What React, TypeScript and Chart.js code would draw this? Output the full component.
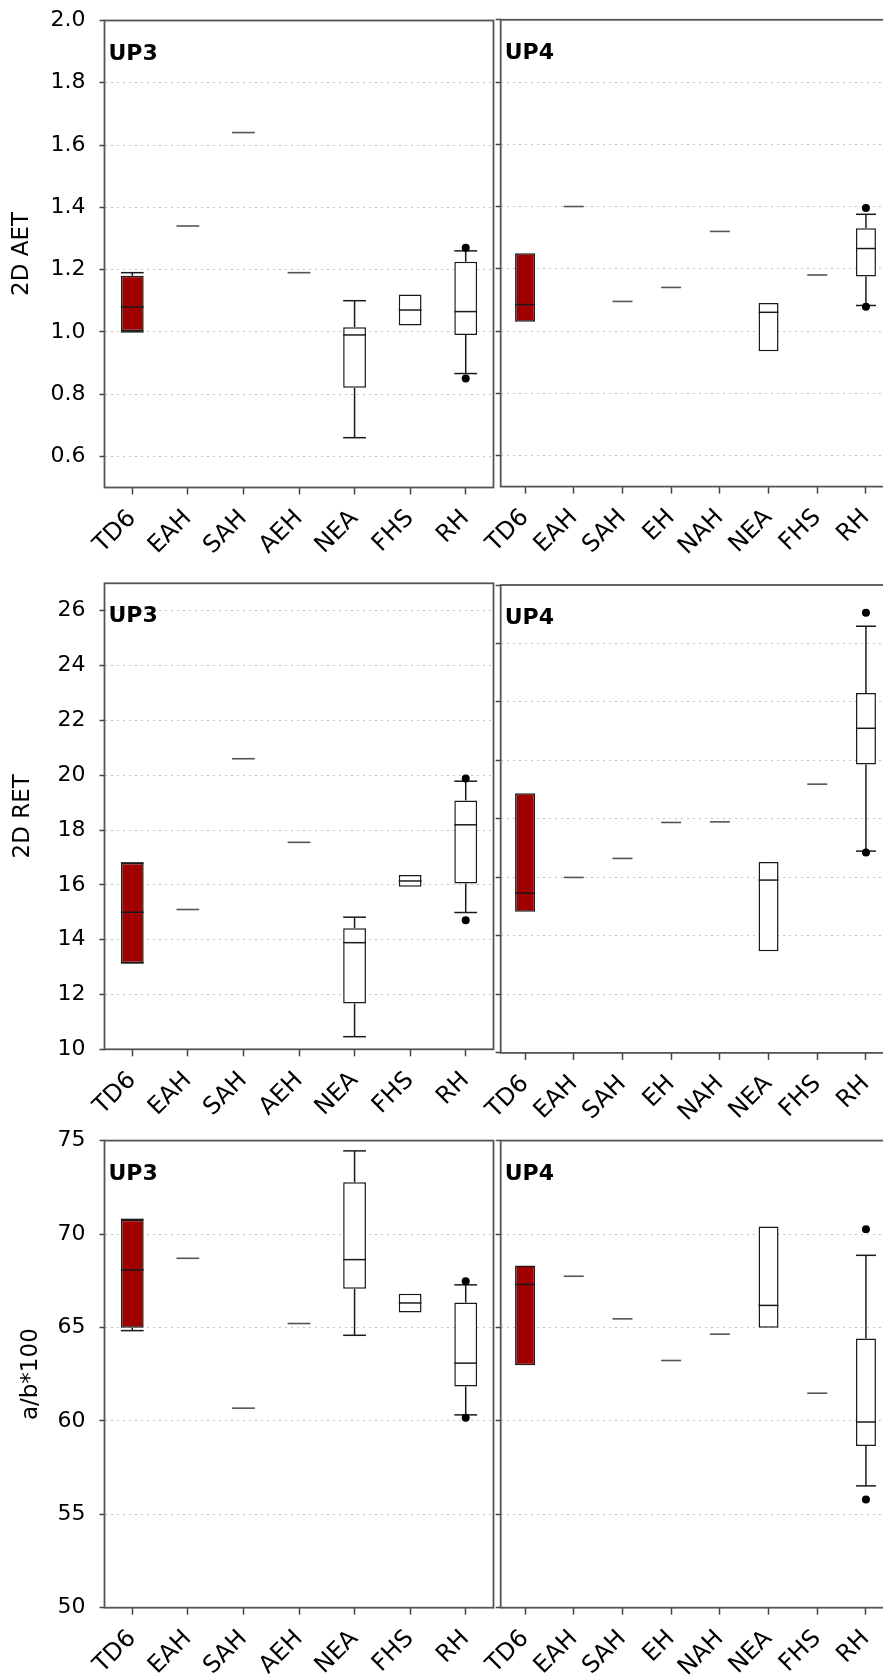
import React, { useEffect, useRef } from "react";
import { Chart, registerables } from "chart.js";

Chart.register(...registerables);

const FONT_FAMILY = "'DejaVu Sans', 'Liberation Sans', Arial, sans-serif";
const TD6_FILL = "#a00000";
const BOX_FRACTION = 0.41;

type V = number | null;
const _ = null;

// ---- categories ----
const CATS_UP3 = ["TD6", "EAH", "SAH", "AEH", "NEA", "FHS", "RH"];
const CATS_UP4 = ["TD6", "EAH", "SAH", "EH", "NAH", "NEA", "FHS", "RH"];

// ---- y tick values ----
const TICKS_AET = [0.6, 0.8, 1.0, 1.2, 1.4, 1.6, 1.8, 2.0];
const TICKS_RET_UP3 = [10, 12, 14, 16, 18, 20, 22, 24, 26];
const TICKS_RET_UP4 = [10, 12, 14, 16, 18, 20, 22, 24, 26];
const TICKS_AB = [50, 55, 60, 65, 70, 75];

// ---- 2D AET, UP3 ----
const AET_UP3_MIN: V[] = [1.0, _, _, _, 0.66, _, 0.866];
const AET_UP3_Q1: V[] = [1.003, _, _, _, 0.82, 1.02, 0.99];
const AET_UP3_MED: V[] = [1.08, 1.34, 1.64, 1.19, 0.99, 1.07, 1.065];
const AET_UP3_Q3: V[] = [1.18, _, _, _, 1.015, 1.12, 1.225];
const AET_UP3_MAX: V[] = [1.19, _, _, _, 1.1, _, 1.26];
const AET_UP3_OUT_HI: V[] = [_, _, _, _, _, _, 1.27];
const AET_UP3_OUT_LO: V[] = [_, _, _, _, _, _, 0.85];

// ---- 2D AET, UP4 ----
const AET_UP4_MIN: V[] = [_, _, _, _, _, _, _, 1.082];
const AET_UP4_Q1: V[] = [1.03, _, _, _, _, 0.935, _, 1.175];
const AET_UP4_MED: V[] = [1.085, 1.4, 1.095, 1.14, 1.32, 1.06, 1.18, 1.265];
const AET_UP4_Q3: V[] = [1.25, _, _, _, _, 1.09, _, 1.33];
const AET_UP4_MAX: V[] = [_, _, _, _, _, _, _, 1.375];
const AET_UP4_OUT_HI: V[] = [_, _, _, _, _, _, _, 1.395];
const AET_UP4_OUT_LO: V[] = [_, _, _, _, _, _, _, 1.078];

// ---- 2D RET, UP3 ----
const RET_UP3_MIN: V[] = [13.15, _, _, _, 10.46, _, 14.99];
const RET_UP3_Q1: V[] = [13.15, _, _, _, 11.67, 15.93, 16.05];
const RET_UP3_MED: V[] = [15.0, 15.1, 20.6, 17.55, 13.89, 16.14, 18.19];
const RET_UP3_Q3: V[] = [16.8, _, _, _, 14.42, 16.36, 19.08];
const RET_UP3_MAX: V[] = [16.8, _, _, _, 14.82, _, 19.78];
const RET_UP3_OUT_HI: V[] = [_, _, _, _, _, _, 19.88];
const RET_UP3_OUT_LO: V[] = [_, _, _, _, _, _, 14.71];

// ---- 2D RET, UP4 ----
const RET_UP4_MIN: V[] = [_, _, _, _, _, _, _, 16.9];
const RET_UP4_Q1: V[] = [14.83, _, _, _, _, 13.48, _, 19.86];
const RET_UP4_MED: V[] = [15.46, 16.0, 16.65, 17.88, 17.9, 15.91, 19.19, 21.1];
const RET_UP4_Q3: V[] = [18.88, _, _, _, _, 16.53, _, 22.31];
const RET_UP4_MAX: V[] = [_, _, _, _, _, _, _, 24.59];
const RET_UP4_OUT_HI: V[] = [_, _, _, _, _, _, _, 25.05];
const RET_UP4_OUT_LO: V[] = [_, _, _, _, _, _, _, 16.85];

// ---- a/b*100, UP3 ----
const AB_UP3_MIN: V[] = [64.83, _, _, _, 64.58, _, 60.32];
const AB_UP3_Q1: V[] = [64.98, _, _, _, 67.07, 65.8, 61.84];
const AB_UP3_MED: V[] = [68.08, 68.7, 60.68, 65.21, 68.63, 66.31, 63.09];
const AB_UP3_Q3: V[] = [70.76, _, _, _, 72.77, 66.8, 66.33];
const AB_UP3_MAX: V[] = [70.78, _, _, _, 74.45, _, 67.28];
const AB_UP3_OUT_HI: V[] = [_, _, _, _, _, _, 67.47];
const AB_UP3_OUT_LO: V[] = [_, _, _, _, _, _, 60.17];

// ---- a/b*100, UP4 ----
const AB_UP4_MIN: V[] = [_, _, _, _, _, _, _, 56.52];
const AB_UP4_Q1: V[] = [62.98, _, _, _, _, 64.98, _, 58.65];
const AB_UP4_MED: V[] = [67.3, 67.74, 65.46, 63.23, 64.64, 66.18, 61.48, 59.94];
const AB_UP4_Q3: V[] = [68.31, _, _, _, _, 70.4, _, 64.41];
const AB_UP4_MAX: V[] = [_, _, _, _, _, _, _, 68.86];
const AB_UP4_OUT_HI: V[] = [_, _, _, _, _, _, _, 70.26];
const AB_UP4_OUT_LO: V[] = [_, _, _, _, _, _, _, 55.79];

type Stats = {
  cats: string[];
  min: V[];
  q1: V[];
  med: V[];
  q3: V[];
  max: V[];
  outHi: V[];
  outLo: V[];
};

type Layout = {
  left: number;
  top: number;
  width: number;
  height: number;
  axisW: number;
  padTop: number;
  padRight: number;
  xAxisH: number;
  titlePad: number;
};

type PanelSpec = {
  label: string;
  title: string | null;
  stats: Stats;
  yMin: number;
  yMax: number;
  ticks: number[];
  decimals: number;
  layout: Layout;
};

const PANELS: PanelSpec[] = [
  {
    label: "UP3",
    title: "2D AET",
    stats: { cats: CATS_UP3, min: AET_UP3_MIN, q1: AET_UP3_Q1, med: AET_UP3_MED, q3: AET_UP3_Q3, max: AET_UP3_MAX, outHi: AET_UP3_OUT_HI, outLo: AET_UP3_OUT_LO },
    yMin: 0.5, yMax: 2.0, ticks: TICKS_AET, decimals: 1,
    layout: { left: 0, top: 0, width: 525, height: 560, axisW: 104.5, padTop: 20.5, padRight: 31.5, xAxisH: 72.5, titlePad: 8 },
  },
  {
    label: "UP4",
    title: null,
    stats: { cats: CATS_UP4, min: AET_UP4_MIN, q1: AET_UP4_Q1, med: AET_UP4_MED, q3: AET_UP4_Q3, max: AET_UP4_MAX, outHi: AET_UP4_OUT_HI, outLo: AET_UP4_OUT_LO },
    yMin: 0.5, yMax: 2.0, ticks: TICKS_AET, decimals: 1,
    layout: { left: 440, top: 0, width: 480, height: 560, axisW: 60.7, padTop: 19.8, padRight: 29.7, xAxisH: 73.4, titlePad: 0 },
  },
  {
    label: "UP3",
    title: "2D RET",
    stats: { cats: CATS_UP3, min: RET_UP3_MIN, q1: RET_UP3_Q1, med: RET_UP3_MED, q3: RET_UP3_Q3, max: RET_UP3_MAX, outHi: RET_UP3_OUT_HI, outLo: RET_UP3_OUT_LO },
    yMin: 10, yMax: 27, ticks: TICKS_RET_UP3, decimals: 0,
    layout: { left: 0, top: 560, width: 525, height: 560, axisW: 104.5, padTop: 23.3, padRight: 31.5, xAxisH: 70.7, titlePad: 9 },
  },
  {
    label: "UP4",
    title: null,
    stats: { cats: CATS_UP4, min: RET_UP4_MIN, q1: RET_UP4_Q1, med: RET_UP4_MED, q3: RET_UP4_Q3, max: RET_UP4_MAX, outHi: RET_UP4_OUT_HI, outLo: RET_UP4_OUT_LO },
    yMin: 10, yMax: 26, ticks: TICKS_RET_UP4, decimals: 0,
    layout: { left: 440, top: 560, width: 480, height: 560, axisW: 60.7, padTop: 25, padRight: 29.7, xAxisH: 67.1, titlePad: 0 },
  },
  {
    label: "UP3",
    title: "a/b*100",
    stats: { cats: CATS_UP3, min: AB_UP3_MIN, q1: AB_UP3_Q1, med: AB_UP3_MED, q3: AB_UP3_Q3, max: AB_UP3_MAX, outHi: AB_UP3_OUT_HI, outLo: AB_UP3_OUT_LO },
    yMin: 50, yMax: 75, ticks: TICKS_AB, decimals: 0,
    layout: { left: 0, top: 1120, width: 525, height: 557, axisW: 104.5, padTop: 20.6, padRight: 31.5, xAxisH: 69.3, titlePad: 17 },
  },
  {
    label: "UP4",
    title: null,
    stats: { cats: CATS_UP4, min: AB_UP4_MIN, q1: AB_UP4_Q1, med: AB_UP4_MED, q3: AB_UP4_Q3, max: AB_UP4_MAX, outHi: AB_UP4_OUT_HI, outLo: AB_UP4_OUT_LO },
    yMin: 50, yMax: 75, ticks: TICKS_AB, decimals: 0,
    layout: { left: 440, top: 1120, width: 480, height: 557, axisW: 60.7, padTop: 20.6, padRight: 29.7, xAxisH: 69.3, titlePad: 0 },
  },
];

function makeBoxPlugin(spec: PanelSpec) {
  const s = spec.stats;
  const seg = (ctx: CanvasRenderingContext2D, x1: number, y1: number, x2: number, y2: number) => {
    ctx.beginPath();
    ctx.moveTo(x1, y1);
    ctx.lineTo(x2, y2);
    ctx.stroke();
  };
  return {
    id: "boxExtras",
    beforeDatasetsDraw(chart: any) {
      const { ctx } = chart;
      const xs = chart.scales.x;
      const ys = chart.scales.y;
      const hw = ((xs.getPixelForValue(1) - xs.getPixelForValue(0)) * BOX_FRACTION) / 2;
      ctx.save();
      ctx.lineCap = "butt";
      s.cats.forEach((_c, i) => {
        const cx = xs.getPixelForValue(i);
        const q1 = s.q1[i], q3 = s.q3[i], mn = s.min[i], mx = s.max[i], md = s.med[i];
        ctx.strokeStyle = "#1a1a1a";
        ctx.lineWidth = 1.5;
        if (mx != null && q3 != null) {
          seg(ctx, cx, ys.getPixelForValue(q3), cx, ys.getPixelForValue(mx));
          seg(ctx, cx - hw, ys.getPixelForValue(mx), cx + hw, ys.getPixelForValue(mx));
        }
        if (mn != null && q1 != null) {
          seg(ctx, cx, ys.getPixelForValue(q1), cx, ys.getPixelForValue(mn));
          seg(ctx, cx - hw, ys.getPixelForValue(mn), cx + hw, ys.getPixelForValue(mn));
        }
        if (q1 == null && md != null) {
          ctx.strokeStyle = "#555";
          ctx.lineWidth = 1.6;
          seg(ctx, cx - hw, ys.getPixelForValue(md), cx + hw, ys.getPixelForValue(md));
        }
      });
      ctx.restore();
    },
    afterDatasetsDraw(chart: any) {
      const { ctx } = chart;
      const xs = chart.scales.x;
      const ys = chart.scales.y;
      const hw = ((xs.getPixelForValue(1) - xs.getPixelForValue(0)) * BOX_FRACTION) / 2;
      ctx.save();
      ctx.strokeStyle = "#1a1a1a";
      ctx.lineWidth = 1.5;
      s.cats.forEach((_c, i) => {
        const md = s.med[i];
        if (s.q1[i] != null && md != null) {
          const cx = xs.getPixelForValue(i);
          const py = ys.getPixelForValue(md);
          seg(ctx, cx - hw, py, cx + hw, py);
        }
      });
      ctx.restore();
    },
    afterDraw(chart: any) {
      const { ctx, chartArea } = chart;
      ctx.save();
      ctx.strokeStyle = "#555";
      ctx.lineWidth = 1.8;
      ctx.strokeRect(chartArea.left, chartArea.top, chartArea.right - chartArea.left, chartArea.bottom - chartArea.top);
      ctx.fillStyle = "#000";
      ctx.font = `bold 22px ${FONT_FAMILY}`;
      ctx.textBaseline = "alphabetic";
      ctx.textAlign = "left";
      ctx.fillText(spec.label, chartArea.left + 4, chartArea.top + 39);
      ctx.restore();
    },
  };
}

function zeroPadding(sc: any) {
  sc.paddingTop = 0;
  sc.paddingBottom = 0;
  sc.paddingLeft = 0;
  sc.paddingRight = 0;
}

function BoxPanel({ spec }: { spec: PanelSpec }) {
  const ref = useRef<HTMLCanvasElement>(null);
  const L = spec.layout;
  useEffect(() => {
    const s = spec.stats;
    const xFont = { family: FONT_FAMILY, size: 24 };
    const yFont = { family: FONT_FAMILY, size: 22 };
    const titleFont = { family: FONT_FAMILY, size: 23 };
    const chart = new Chart(ref.current as HTMLCanvasElement, {
      type: "bar",
      data: {
        labels: s.cats,
        datasets: [
          {
            type: "line",
            data: s.outHi as any,
            showLine: false,
            pointRadius: 4,
            pointHoverRadius: 4,
            pointBackgroundColor: "#000",
            pointBorderColor: "#000",
            pointBorderWidth: 0,
          } as any,
          {
            type: "line",
            data: s.outLo as any,
            showLine: false,
            pointRadius: 4,
            pointHoverRadius: 4,
            pointBackgroundColor: "#000",
            pointBorderColor: "#000",
            pointBorderWidth: 0,
          } as any,
          {
            type: "bar",
            data: s.cats.map((_c, i) => (s.q1[i] != null && s.q3[i] != null ? [s.q1[i], s.q3[i]] : null)) as any,
            backgroundColor: s.cats.map((c) => (c === "TD6" ? TD6_FILL : "#ffffff")),
            borderColor: "#1a1a1a",
            borderWidth: 1.5,
            borderSkipped: false,
            barPercentage: BOX_FRACTION,
            categoryPercentage: 1,
          } as any,
        ],
      },
      options: {
        responsive: false,
        animation: false,
        devicePixelRatio: 1,
        events: [],
        layout: { padding: { left: 0, top: L.padTop, right: L.padRight, bottom: 0 } },
        plugins: { legend: { display: false }, tooltip: { enabled: false } },
        scales: {
          x: {
            type: "category",
            offset: true,
            grid: {
              display: true,
              drawOnChartArea: false,
              drawTicks: true,
              tickLength: 7,
              tickColor: "#444",
              tickWidth: 1.5,
              offset: false,
            },
            border: { display: false },
            ticks: {
              font: xFont,
              color: "#000",
              minRotation: 45,
              maxRotation: 45,
              autoSkip: false,
              padding: 10,
              labelOffset: 0,
            },
            afterFit: (sc: any) => {
              sc.height = L.xAxisH;
              zeroPadding(sc);
            },
          },
          y: {
            type: "linear",
            min: spec.yMin,
            max: spec.yMax,
            afterBuildTicks: (sc: any) => {
              sc.ticks = spec.ticks.map((v) => ({ value: v }));
            },
            grid: {
              color: "#c4c4c4",
              lineWidth: 1,
              drawTicks: true,
              tickLength: 5,
              tickColor: "#444",
              tickWidth: 1.5,
              tickBorderDash: [],
              borderDash: [2, 4],
            } as any,
            border: { display: false, dash: [2, 4] },
            ticks: {
              display: spec.title != null,
              font: yFont,
              color: "#000",
              padding: 14,
              callback: (v: any) => Number(v).toFixed(spec.decimals),
            },
            title: {
              display: spec.title != null,
              text: spec.title || "",
              font: titleFont,
              color: "#000",
              padding: { top: L.titlePad, bottom: 0 },
            },
            afterFit: (sc: any) => {
              sc.width = L.axisW;
              zeroPadding(sc);
            },
          },
        },
      } as any,
      plugins: [makeBoxPlugin(spec)],
    });
    return () => chart.destroy();
  }, [spec]);
  return (
    <canvas
      ref={ref}
      width={L.width}
      height={L.height}
      style={{ position: "absolute", left: L.left, top: L.top, width: L.width, height: L.height }}
    />
  );
}

export default function App() {
  return (
    <div
      style={{
        position: "absolute",
        left: 0,
        top: 0,
        width: 883,
        height: 1677,
        overflow: "hidden",
        background: "#ffffff",
      }}
    >
      {PANELS.map((p, i) => (
        <BoxPanel key={i} spec={p} />
      ))}
    </div>
  );
}
